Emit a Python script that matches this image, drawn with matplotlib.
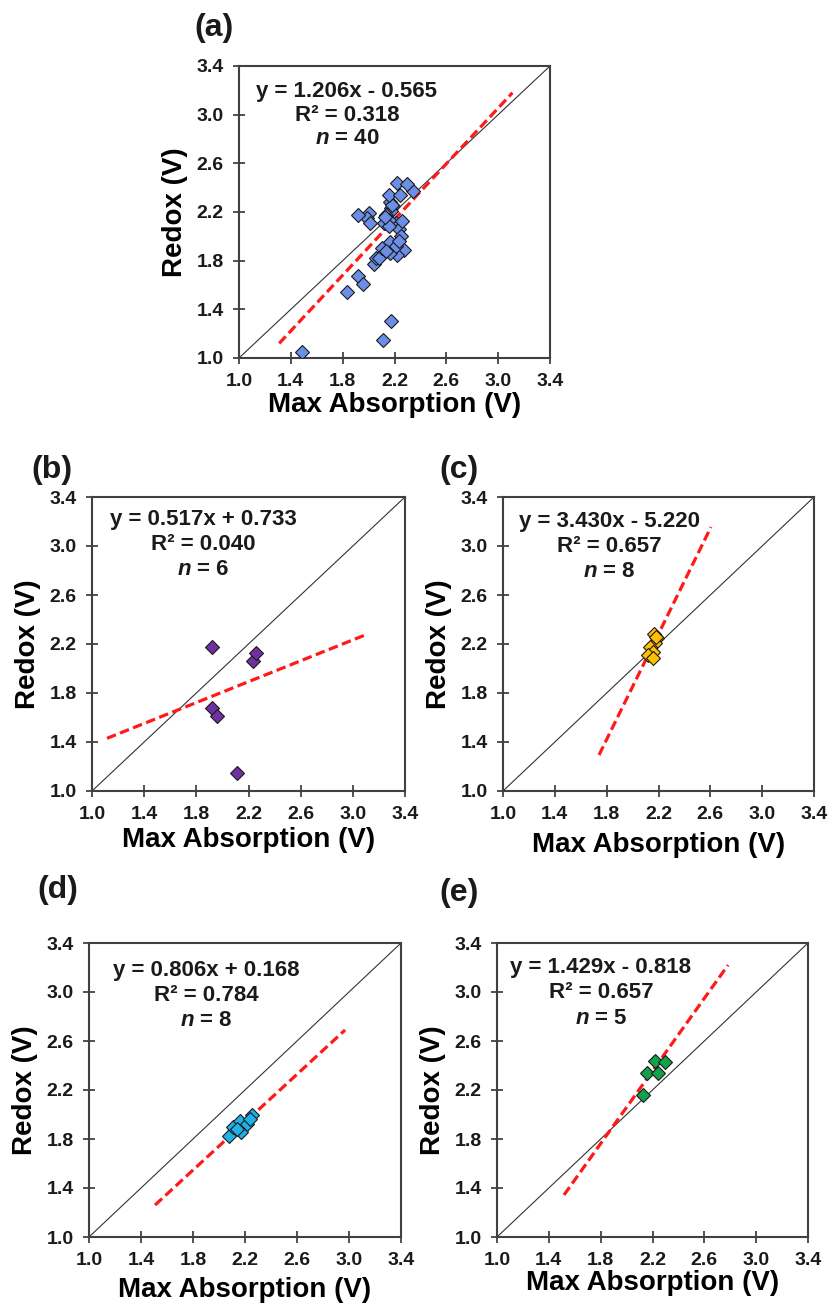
import numpy as np
import matplotlib.pyplot as plt

plt.rcParams['font.family'] = ['Liberation Sans', 'DejaVu Sans']
plt.rcParams['font.weight'] = 'bold'
plt.rcParams['mathtext.fontset'] = 'custom'
plt.rcParams['mathtext.it'] = 'Liberation Sans:italic:bold'
plt.rcParams['mathtext.rm'] = 'Liberation Sans:bold'

# data
b_x = [1.922, 1.922, 1.956, 2.114, 2.232, 2.258]
b_y = [2.178, 1.675, 1.612, 1.144, 2.064, 2.124]

c_x = [2.165, 2.190, 2.173, 2.134, 2.155, 2.121, 2.155, 2.180]
c_y = [2.280, 2.247, 2.206, 2.178, 2.137, 2.110, 2.083, 2.260]

d_x = [2.077, 2.105, 2.162, 2.169, 2.213, 2.252, 2.238, 2.136]
d_y = [1.825, 1.900, 1.950, 1.860, 1.920, 2.000, 1.960, 1.880]

e_x = [2.129, 2.160, 2.219, 2.240, 2.296]
e_y = [2.157, 2.339, 2.440, 2.339, 2.429]

other_x = [1.49, 1.83, 2.17, 2.04, 2.06, 2.006, 1.985, 2.01, 2.34, 2.27, 2.217, 2.21, 2.17]
other_y = [1.05, 1.54, 1.30, 1.77, 1.82, 2.19, 2.15, 2.11, 2.37, 1.89, 1.85, 2.11, 2.23]

a_x = other_x + b_x + c_x + d_x + e_x
a_y = other_y + b_y + c_y + d_y + e_y

# trend line ends as drawn in the figure
fit_x = {'a': [1.31, 3.11], 'b': [1.115, 3.086], 'c': [1.741, 2.605],
         'd': [1.508, 2.97], 'e': [1.517, 2.783]}
fit_y = {'a': [1.12, 3.18], 'b': [1.43, 2.27], 'c': [1.294, 3.155],
         'd': [1.261, 2.69], 'e': [1.343, 3.22]}

eqs = {'a': 'y = 1.206x - 0.565', 'b': 'y = 0.517x + 0.733', 'c': 'y = 3.430x - 5.220',
       'd': 'y = 0.806x + 0.168', 'e': 'y = 1.429x - 0.818'}
r2 = {'a': '0.318', 'b': '0.040', 'c': '0.657', 'd': '0.784', 'e': '0.657'}

ticks = [1.0, 1.4, 1.8, 2.2, 2.6, 3.0, 3.4]

colors = {'a': '#6b8fe6', 'b': '#7030a0', 'c': '#ffc000', 'd': '#1fb0e8', 'e': '#12a04a'}

fig = plt.figure(figsize=(8.3, 13.08), dpi=100)
W, H = 830, 1308

# axes boxes in pixels: left, top, right, bottom
boxes = {'a': (239, 66, 550, 358), 'b': (92, 497, 405, 791), 'c': (503, 497, 814, 791),
         'd': (89, 943, 401, 1237), 'e': (497, 943, 808, 1237)}
letter_pos = {'a': (214, 28), 'b': (52, 470), 'c': (459, 470), 'd': (58, 890), 'e': (459, 893)}
text_pos = {'a': (0.347, [0.911, 0.832, 0.753]), 'b': (0.356, [0.925, 0.840, 0.755]),
            'c': (0.341, [0.918, 0.833, 0.748]), 'd': (0.377, [0.908, 0.823, 0.736]),
            'e': (0.334, [0.915, 0.830, 0.743])}
xlab_off = {'a': 47, 'b': 49, 'c': 54, 'd': 53, 'e': 46}

data = {'a': (a_x, a_y), 'b': (b_x, b_y), 'c': (c_x, c_y), 'd': (d_x, d_y), 'e': (e_x, e_y)}

for k in ['a', 'b', 'c', 'd', 'e']:
    l, t, r, bt = boxes[k]
    ax = fig.add_axes([l / W, 1 - bt / H, (r - l) / W, (bt - t) / H])
    ax.set_xlim(1.0, 3.4)
    ax.set_ylim(1.0, 3.4)
    ax.plot([1.0, 3.4], [1.0, 3.4], color='#333333', lw=0.8, zorder=1)
    ax.plot(fit_x[k], fit_y[k], color='#ff1a1a', lw=2.3, dashes=(3, 1.4), zorder=2)
    xs, ys = data[k]
    ax.plot(xs, ys, ls='none', marker='D', ms=7.4, mfc=colors[k], mec='#1a1a1a',
            mew=0.8, zorder=3)
    ax.set_xticks(ticks)
    ax.set_yticks(ticks)
    ax.set_xticklabels(['%.1f' % v for v in ticks])
    ax.set_yticklabels(['%.1f' % v for v in ticks])
    ax.tick_params(direction='inout', length=8, width=1.2, color='#333333',
                   labelsize=14, labelcolor='#1a1a1a', pad=7)
    for s in ax.spines.values():
        s.set_linewidth(1.5)
        s.set_color('#404040')
    ax.set_xlabel('Max Absorption (V)', fontsize=20, fontweight='bold', va='center')
    ax.set_ylabel('Redox (V)', fontsize=20, fontweight='bold', va='center')
    ax.xaxis.set_label_coords(0.5, -xlab_off[k] / (bt - t))
    ax.yaxis.set_label_coords(-64 / (r - l), 0.5)
    tx, tys = text_pos[k]
    n = len(data[k][0])
    ax.text(tx, tys[0], eqs[k], transform=ax.transAxes, ha='center', va='center',
            fontsize=16, fontweight='bold', color='#1a1a1a')
    ax.text(tx, tys[1], 'R² = ' + r2[k], transform=ax.transAxes, ha='center', va='center',
            fontsize=16, fontweight='bold', color='#1a1a1a')
    ax.text(tx, tys[2], r'$\mathit{n}$ = %d' % n, transform=ax.transAxes, ha='center',
            va='center', fontsize=16, fontweight='bold', color='#1a1a1a')
    lx, ly = letter_pos[k]
    fig.text(lx / W, 1 - ly / H, '(%s)' % k, ha='center', va='center',
             fontsize=23, fontweight='bold', color='#1a1a1a')

fig.savefig('out.png', dpi=100)
